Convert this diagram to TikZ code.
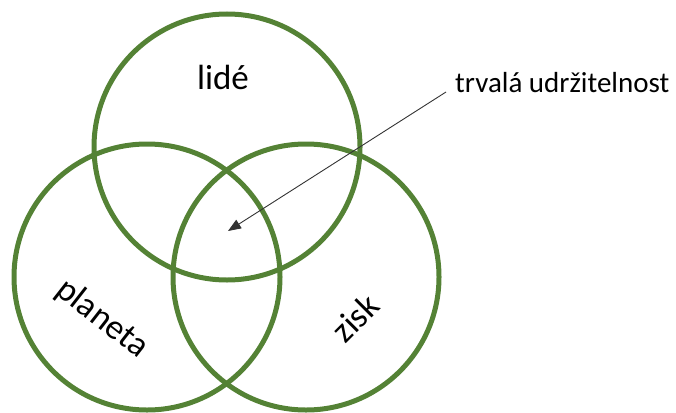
\documentclass[tikz,border=0pt]{standalone}
\usepackage{fontspec}
\setmainfont{Carlito}
\usetikzlibrary{arrows.meta}
\definecolor{vgreen}{RGB}{84,130,53}
\begin{document}
\begin{tikzpicture}[x=1pt,y=-1pt,
  ring/.style={draw=vgreen,line width=5pt},
  lbl/.style={font=\fontsize{35}{40}\selectfont,inner sep=0pt},
  note/.style={font=\fontsize{29}{34}\selectfont,inner sep=0pt},
  pointer/.style={draw=black!80,line width=0.9pt,-{Triangle[length=13pt,width=10pt]}}]
\useasboundingbox (0,0) rectangle (676,412);
\node[ring,circle,minimum size=266pt,inner sep=0pt] (top) at (227,147) {};
\node[ring,circle,minimum size=266pt,inner sep=0pt] (left) at (147,277) {};
\node[ring,circle,minimum size=266pt,inner sep=0pt] (right) at (306,277) {};
\node[lbl,anchor=base] (lide) at (223,89) {lidé};
\node[lbl,rotate=-38] (planeta) at (102,319) {planeta};
\node[lbl,rotate=45] (zisk) at (355,318) {zisk};
\node[note,anchor=base west] (tu) at (455,92) {trvalá udržitelnost};
\coordinate (tip) at (228,231);
\coordinate (start) at (446,92);
\draw[pointer] (start) -- (tip);
\end{tikzpicture}
\end{document}
